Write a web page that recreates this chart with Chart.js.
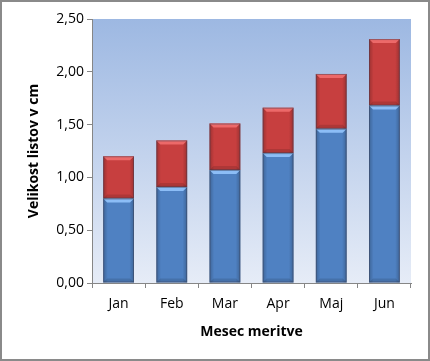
<!DOCTYPE html>
<html>
<head>
<meta charset="utf-8">
<script src="https://cdn.jsdelivr.net/npm/chart.js@4.4.0/dist/chart.umd.min.js"></script>
<style>
  html, body { margin: 0; padding: 0; background: #fff; }
  #wrap { position: relative; width: 430px; height: 361px; box-sizing: border-box; border: 2px solid #8a8a8a; }
  canvas { display: block; }
</style>
</head>
<body>
<div id="wrap"><canvas id="barChart" width="426" height="357"></canvas></div>
<script>
// data
var months = ["Jan", "Feb", "Mar", "Apr", "Maj", "Jun"];
var spodnji = [0.80, 0.91, 1.07, 1.23, 1.46, 1.68];   // blue part
var zgornji = [0.40, 0.44, 0.44, 0.43, 0.52, 0.63];   // red part
var yTicks = [0, 0.5, 1, 1.5, 2, 2.5];

var fontName = "'Open Sans', sans-serif";

// plot area background, white-blue gradient
var plotBg = {
  id: 'plotBg',
  beforeDraw: function(chart) {
    var a = chart.chartArea, c = chart.ctx;
    var g = c.createLinearGradient(0, a.top, 0, a.bottom);
    g.addColorStop(0, '#9db8e2');
    g.addColorStop(1, '#e6ecf7');
    c.save();
    c.fillStyle = g;
    c.fillRect(a.left, a.top, a.right - a.left, a.bottom - a.top);
    c.restore();
  }
};

// bevel look on each bar segment
var bevel = {
  id: 'bevel',
  afterDatasetsDraw: function(chart) {
    var c = chart.ctx;
    var light = ['rgba(150,200,255,0.85)', 'rgba(240,110,110,0.9)'];
    chart.data.datasets.forEach(function(ds, i) {
      var meta = chart.getDatasetMeta(i);
      meta.data.forEach(function(bar) {
        var p = bar.getProps(['x', 'y', 'base', 'width'], true);
        var l = p.x - p.width / 2, r = p.x + p.width / 2;
        var t = Math.min(p.y, p.base), b = Math.max(p.y, p.base);
        var e = 4;
        c.save();
        // side shading
        var g = c.createLinearGradient(l, 0, r, 0);
        g.addColorStop(0, 'rgba(0,0,0,0.22)');
        g.addColorStop(0.15, 'rgba(0,0,0,0)');
        g.addColorStop(0.85, 'rgba(0,0,0,0)');
        g.addColorStop(1, 'rgba(0,0,0,0.22)');
        c.fillStyle = g;
        c.fillRect(l, t, r - l, b - t);
        // top highlight
        c.fillStyle = light[i];
        c.beginPath();
        c.moveTo(l, t); c.lineTo(r, t); c.lineTo(r - e, t + e); c.lineTo(l + e, t + e);
        c.closePath(); c.fill();
        // bottom shade
        c.fillStyle = 'rgba(0,0,0,0.12)';
        c.beginPath();
        c.moveTo(l, b); c.lineTo(r, b); c.lineTo(r - e, b - e); c.lineTo(l + e, b - e);
        c.closePath(); c.fill();
        // outline
        c.strokeStyle = 'rgba(60,60,80,0.45)';
        c.lineWidth = 1;
        c.strokeRect(l + 0.5, t + 0.5, r - l - 1, b - t - 1);
        c.restore();
      });
    });
  }
};

var ctx = document.getElementById("barChart").getContext('2d');
var myBarChart = new Chart(ctx, {
  type: 'bar',
  data: {
    labels: months,
    datasets: [{
      data: spodnji,
      backgroundColor: '#4f81c2',
      borderWidth: 0,
      categoryPercentage: 1,
      barPercentage: 0.58
    },
    {
      data: zgornji,
      backgroundColor: '#c73f3f',
      borderWidth: 0,
      categoryPercentage: 1,
      barPercentage: 0.58
    }]
  },
  options: {
    responsive: false,
    animation: false,
    layout: { padding: { top: 17, right: 17, left: 0, bottom: 0 } },
    plugins: { legend: { display: false }, tooltip: { enabled: false } },
    scales: {
      x: {
        stacked: true,
        offset: true,
        border: { color: '#868686' },
        grid: { offset: true, drawOnChartArea: false, tickLength: 5, color: '#868686' },
        ticks: { color: '#000', padding: 8, font: { family: fontName, size: 14 } },
        title: { display: true, text: 'Mesec meritve', color: '#000', padding: { top: 4, bottom: 19 },
                 font: { family: fontName, size: 14, weight: 'bold' } },
        afterFit: function(s) { s.height = 76; }
      },
      y: {
        stacked: true,
        min: 0,
        max: 2.5,
        border: { color: '#868686' },
        grid: { drawOnChartArea: false, tickLength: 5, color: '#868686' },
        afterBuildTicks: function(s) { s.ticks = yTicks.map(function(v) { return { value: v }; }); },
        ticks: {
          color: '#000', padding: 3,
          font: { family: fontName, size: 14 },
          callback: function(v) { return v.toFixed(2).replace('.', ','); }
        },
        title: { display: true, text: 'Velikost listov v cm', color: '#000', padding: { top: 24, bottom: 0 },
                 font: { family: fontName, size: 14, weight: 'bold' } },
        afterFit: function(s) { s.width = 90; }
      }
    }
  },
  plugins: [plotBg, bevel]
});
</script>
</body>
</html>
